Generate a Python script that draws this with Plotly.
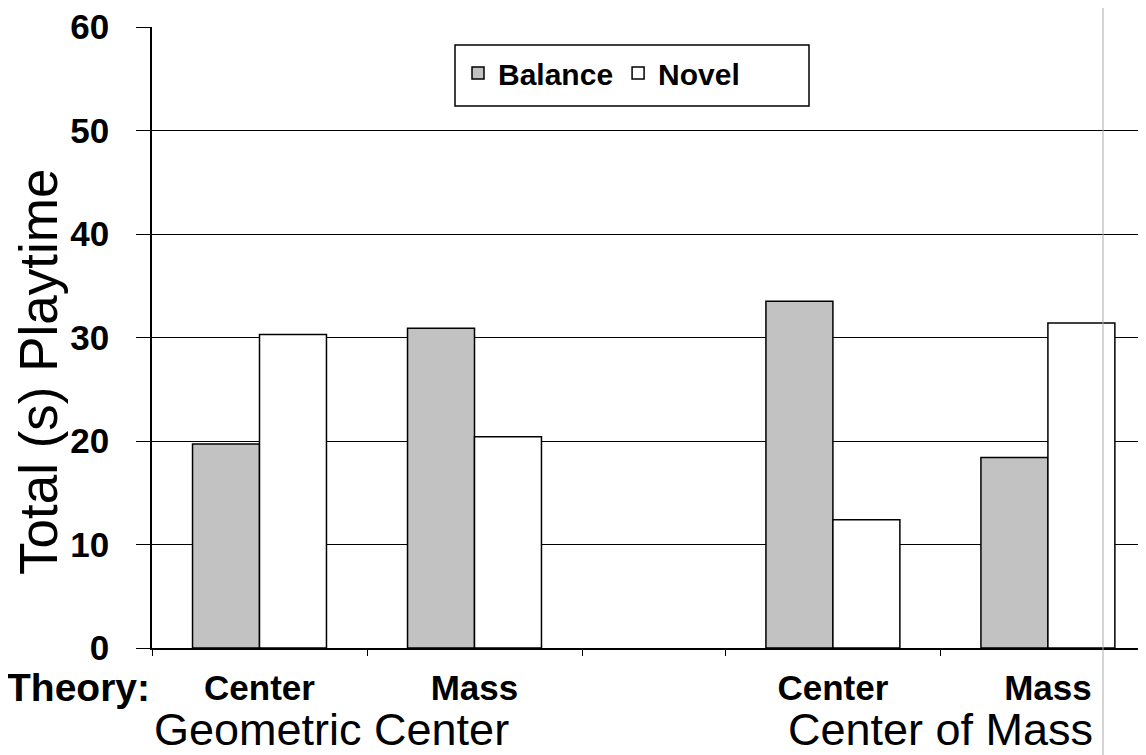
import plotly.graph_objects as go

# ---- data ----
theories = ["Center", "Mass", "Center", "Mass"]
groups = ["Geometric Center", "Center of Mass"]
balance = [19.7, 30.9, 33.5, 18.4]
novel = [30.3, 20.4, 12.4, 31.4]
y_ticks = [0, 10, 20, 30, 40, 50, 60]

# ---- layout helpers (category slots on a numeric axis; the empty middle slot is narrower) ----
gap_slot = 0.667
bounds = [0, 1, 2, 2 + gap_slot, 3 + gap_slot]
centers = [b + 0.5 for b in (bounds[0], bounds[1], bounds[3], bounds[4])]

FONT = "Liberation Sans, Arial, sans-serif"
OFF = 8  # page body margin in the browser
W, H = 1146 - OFF, 755 - OFF
L, T = 152 - OFF, 27 - OFF
R = 0
B = H - (648 - OFF)

plot_w = W - L - R
plot_h = H - T - B


def px_x(px):
    return (px - OFF - L) / plot_w


def px_y(py):
    return (H - B - (py - OFF)) / plot_h


fig = go.Figure()
fig.add_trace(go.Bar(name="Balance", x=centers, y=balance,
                     marker=dict(color="#c2c2c2", line=dict(color="black", width=1.5))))
fig.add_trace(go.Bar(name="Novel", x=centers, y=novel,
                     marker=dict(color="white", line=dict(color="black", width=1.5))))

fig.update_layout(
    width=W, height=H,
    margin=dict(l=L, r=R, t=T, b=B),
    paper_bgcolor="white", plot_bgcolor="white",
    barmode="group", bargap=0.377, bargroupgap=0,
    font=dict(family=FONT, color="black"),
    showlegend=True,
    legend=dict(orientation="h", x=px_x(458), y=px_y(47), xanchor="left", yanchor="top",
                borderwidth=0, bgcolor="rgba(0,0,0,0)",
                font=dict(family=FONT, size=30, color="black", weight="bold"),
                itemwidth=30, traceorder="normal"),
    xaxis=dict(range=[0, plot_w / 215.0], tickmode="array", tickvals=centers,
               ticktext=theories, ticks="", showgrid=False, zeroline=False,
               showline=True, linecolor="black", linewidth=1.5,
               tickfont=dict(family=FONT, size=35, color="black", weight="bold"),
               ticklabelstandoff=8,
               minor=dict(tickmode="array", tickvals=bounds, ticks="outside",
                          ticklen=6, tickcolor="black", tickwidth=1, showgrid=False)),
    yaxis=dict(range=[0, 60], tickmode="array", tickvals=y_ticks,
               ticks="outside", ticklen=14, tickcolor="black", tickwidth=1,
               showgrid=True, gridcolor="black", gridwidth=1,
               zeroline=False, showline=True, linecolor="black", linewidth=1.5,
               tickfont=dict(family=FONT, size=35, color="black", weight="bold"),
               ticklabeloverflow="allow", ticklabelstandoff=20),
)

# legend frame (wider than the entries, as in the reference)
fig.add_shape(type="rect", xref="paper", yref="paper",
              x0=px_x(455), x1=px_x(809), y0=px_y(106), y1=px_y(45),
              line=dict(color="black", width=1.5), fillcolor="rgba(0,0,0,0)", layer="above")

fig.add_annotation(text="Total (s) Playtime", xref="paper", yref="paper",
                   x=px_x(38), y=px_y(372), textangle=-90, showarrow=False,
                   xanchor="center", yanchor="middle",
                   font=dict(family=FONT, size=53, color="black"))
fig.add_annotation(text="Theory:", xref="paper", yref="paper",
                   x=px_x(152), y=px_y(687), showarrow=False,
                   xanchor="right", yanchor="middle",
                   font=dict(family=FONT, size=39, color="black", weight="bold"))
for g, cx in zip(groups, [331, 940]):
    fig.add_annotation(text=g, xref="paper", yref="paper", x=px_x(cx), y=px_y(729),
                       showarrow=False, xanchor="center", yanchor="middle",
                       font=dict(family=FONT, size=45, color="black"))

# faint vertical scan line seen in the reference
fig.add_shape(type="line", xref="paper", yref="paper", x0=px_x(1103), x1=px_x(1103),
              y0=px_y(755), y1=px_y(OFF), line=dict(color="#aaaaaa", width=1))

fig.write_html("out.html")
